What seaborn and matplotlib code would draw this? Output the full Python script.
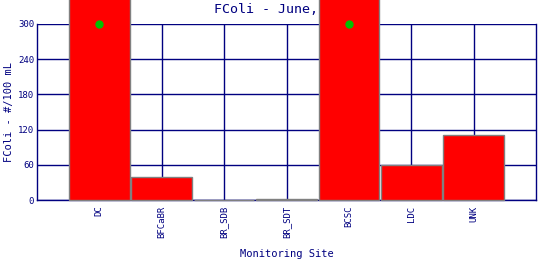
import matplotlib
matplotlib.use("Agg")
import matplotlib.pyplot as plt
import seaborn as sns
import pandas as pd

sites = ["DC", "BFCaBR", "BR_SDB", "BR_SDT", "BCSC", "LDC", "UNK"]
fcoli = [420, 39, 0, 2, 420, 60, 110]
flag_sites = ["DC", "BCSC"]
flag_values = [300, 300]
yticks = [0, 60, 120, 180, 240, 300]

NAVY = "#000080"
sns.set_style("white")
plt.rcParams["font.family"] = ["DejaVu Sans Mono", "DejaVu Sans"]

df = pd.DataFrame({"site": sites, "fcoli": fcoli})
fig = plt.figure(figsize=(5.4, 2.6), dpi=100)
ax = fig.add_axes([37/540, 60/260, 499/540, 176/260])

sns.barplot(data=df, x="site", y="fcoli", order=sites, color="#FF0000",
            saturation=1, width=0.97, edgecolor="#808080", linewidth=1.0,
            ax=ax, zorder=3)
for p in ax.patches:
    p.set_clip_on(False)
    p.set_zorder(3)

fx = [sites.index(s) for s in flag_sites]
ax.scatter(fx, flag_values, s=36, color="#00C000", zorder=4, clip_on=False,
           linewidths=0)

ax.set_xlim(-1, 7)
ax.set_ylim(0, 300)
ax.set_yticks(yticks)
ax.set_yticklabels([str(v) for v in yticks])
ax.grid(True, color=NAVY, linewidth=1.0)
ax.set_axisbelow(True)
for s in ["left", "bottom", "right"]:
    ax.spines[s].set_color(NAVY)
    ax.spines[s].set_linewidth(1.0)
ax.spines["top"].set_visible(False)

ax.tick_params(axis="x", labelrotation=90, labelsize=6.5, colors=NAVY,
               length=0, pad=4)
ax.tick_params(axis="y", labelsize=6.5, colors=NAVY, length=0, pad=2)
ax.set_xlabel("Monitoring Site", color=NAVY, fontsize=7.5, labelpad=8)
ax.set_ylabel("FColi - #/100 mL", color=NAVY, fontsize=7.5, labelpad=3)

ax.text(0.5, 1.0 + 14/176, "FColi - June, 2007", transform=ax.transAxes,
        ha="center", va="center", color=NAVY, fontsize=9.6, zorder=1,
        clip_on=False)

fig.savefig("out.png", dpi=100)
